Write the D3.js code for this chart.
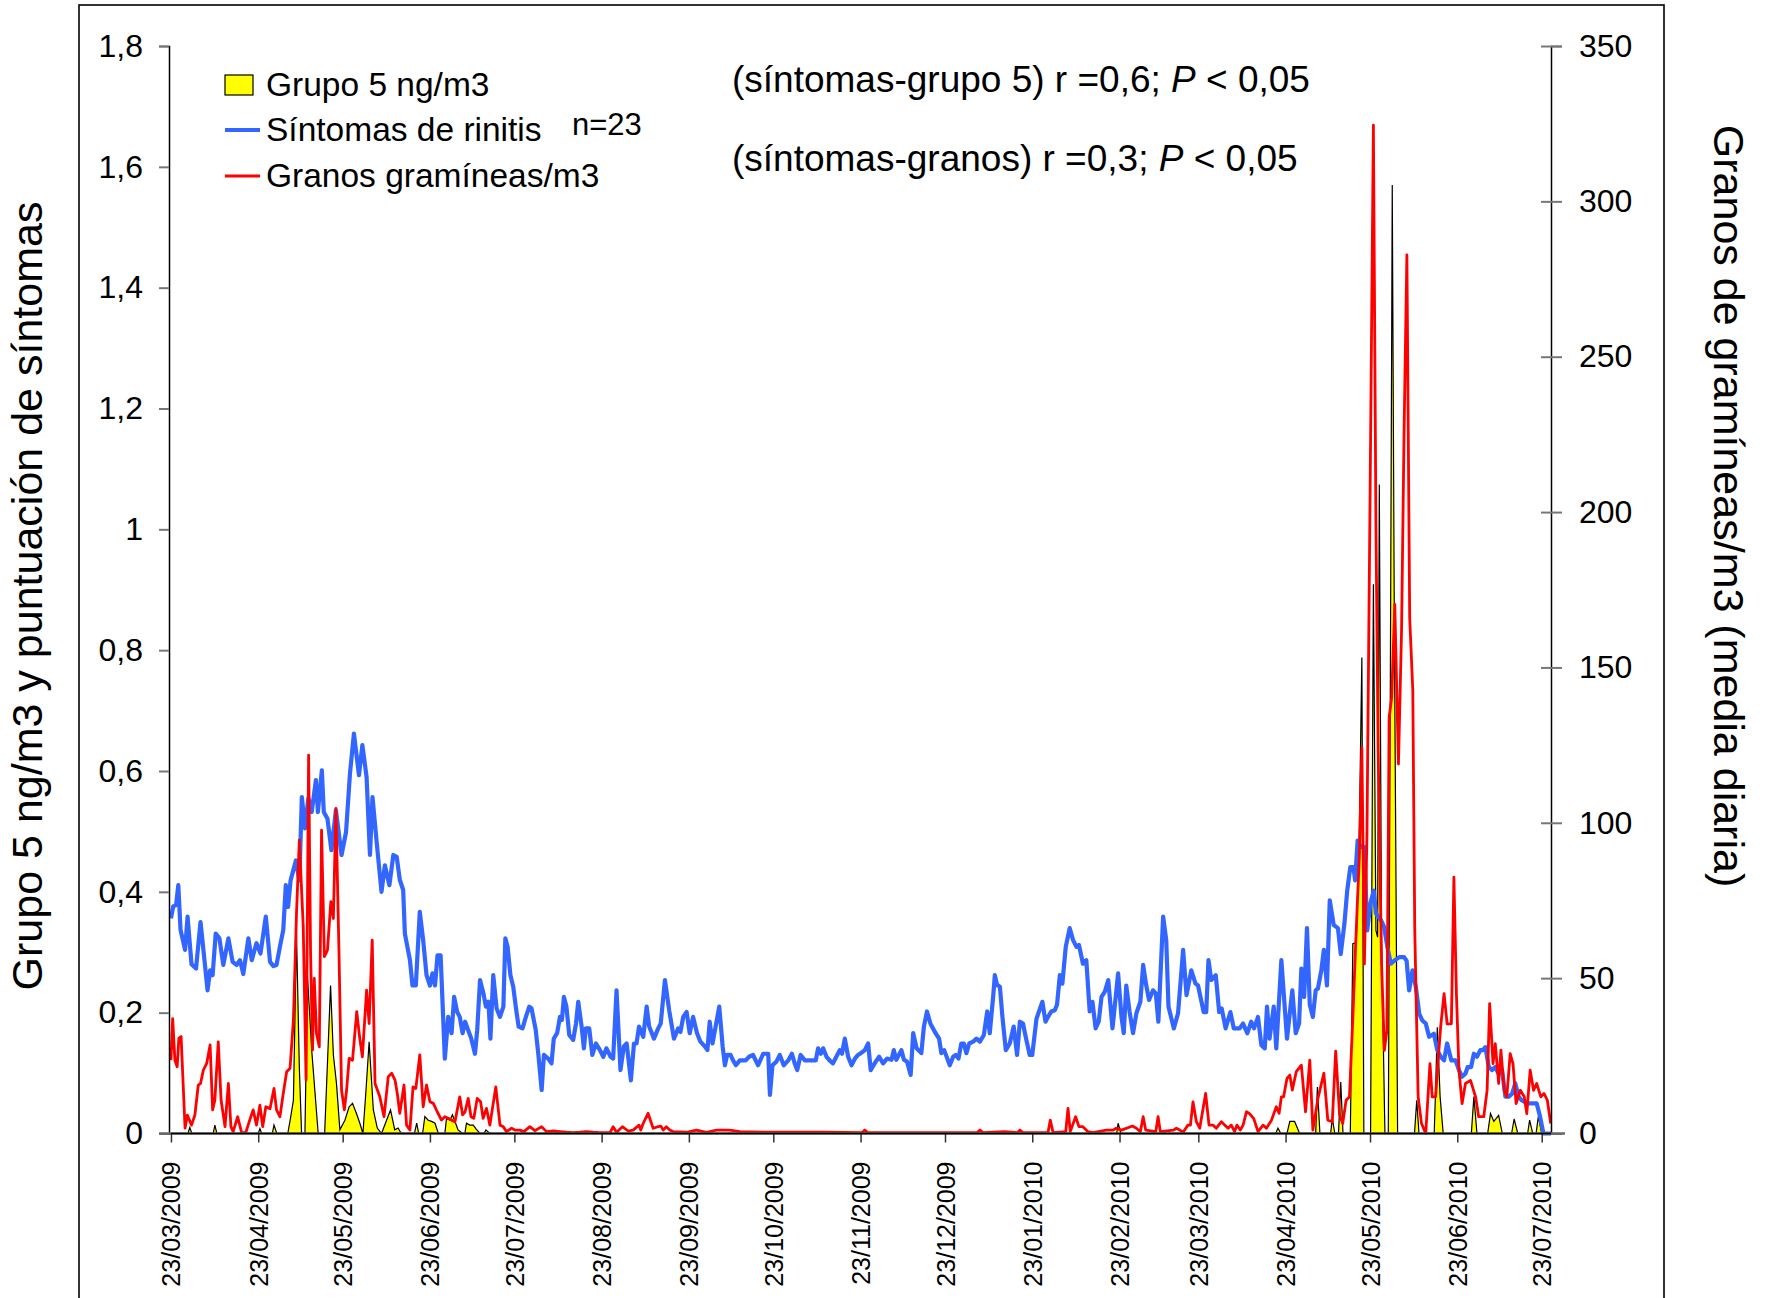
<!DOCTYPE html>
<html><head><meta charset="utf-8">
<script src="https://cdn.jsdelivr.net/npm/d3@7"></script>
<style>
html,body{margin:0;padding:0;background:#fff;}
svg text{font-family:"Liberation Sans",Arial,Helvetica,sans-serif;fill:#000;}
</style></head>
<body>
<svg id="chart" width="1765" height="1298"></svg>
<script>
// ---------- DATA ----------
const startDate = "2009-03-23";           // day 0
const lastDay = 490.3;
// x tick labels (23rd of every month)
const xTickLabels = ["23/03/2009","23/04/2009","23/05/2009","23/06/2009","23/07/2009","23/08/2009","23/09/2009","23/10/2009","23/11/2009","23/12/2009","23/01/2010","23/02/2010","23/03/2010","23/04/2010","23/05/2010","23/06/2010","23/07/2010"];
const leftTicks = [0,0.2,0.4,0.6,0.8,1,1.2,1.4,1.6,1.8];
const leftTickLabels = ["0","0,2","0,4","0,6","0,8","1","1,2","1,4","1,6","1,8"];
const rightTicks = [0,50,100,150,200,250,300,350];
const rightTickLabels = ["0","50","100","150","200","250","300","350"];
const seriesNames = ["Grupo 5 ng/m3","Síntomas de rinitis","Granos gramíneas/m3"];

// Síntomas de rinitis (left axis) : [day offset, score]
const sintomas = [[0,.356],[0.8,.376],[1.8,.378],[2.6,.411],[3.4,.337],[5,.304],[5.9,.359],[7.3,.28],[8.9,.273],[10.5,.35],[11.9,.287],[13,.237],[13.9,.27],[14.8,.262],[15.9,.331],[17.2,.323],[18.6,.279],[20.4,.323],[21.9,.284],[23.3,.279],[24.5,.287],[25.7,.264],[27.5,.323],[28.7,.287],[30.4,.315],[31.8,.298],[33.7,.359],[35.2,.284],[36.4,.277],[37.5,.279],[38.7,.309],[39.9,.337],[40.8,.411],[41.6,.375],[42.5,.419],[44.4,.452],[45.6,.419],[46.5,.557],[47.6,.505],[48.8,.555],[50,.532],[51.5,.585],[52.2,.532],[53.6,.601],[54.3,.532],[55.6,.521],[57,.469],[58.6,.535],[60.6,.461],[62.2,.499],[63.6,.596],[65,.662],[66.8,.593],[68,.643],[69.5,.59],[70.7,.461],[71.6,.557],[73,.486],[74.8,.40],[76,.444],[77.6,.411],[79,.461],[80.2,.458],[81.3,.42],[82.5,.403],
[83.1,.331],[84.9,.287],[85.8,.245],[87,.245],[88.4,.367],[89.6,.32],[90.8,.262],[92,.245],[92.9,.265],[93.8,.245],[94.7,.295],[95.8,.295],[97.3,.124],[98.5,.193],[99.7,.166],[100.6,.226],[101.7,.201],[102.6,.193],[103.6,.166],[104.5,.185],[105.6,.171],[106.7,.157],[108,.132],[108.8,.171],[109.8,.254],[111,.232],[111.9,.21],[112.8,.218],[113.5,.157],[114.5,.262],[115.7,.207],[116.9,.193],[118.1,.21],[118.8,.323],[119.6,.309],[120.6,.262],[121.6,.243],[122.5,.21],[123.5,.177],[124.9,.174],[126.1,.193],[127.3,.21],[128.1,.207],[129.6,.171],[130.5,.132],[131.7,.072],[132.5,.13],[134,.124],[135.2,.116],[136,.157],[137.2,.166],[138.2,.193],[138.9,.188],[139.6,.226],[140.5,.21],[141.5,.163],[142.9,.155],[143.9,.182],[144.7,.218],[145.9,.177],[146.7,.141],[147.4,.174],[148.6,.174],[149.7,.13],[151,.149],[152.4,.138],[153.6,.127],[154.7,.141],[156.2,.127],[157.1,.124],[158.3,.237],[159.7,.105],[160.9,.144],[161.9,.149],[163.4,.088],[164.5,.149],[165.4,.149],[166.3,.177],
[167.8,.16],[169,.21],[169.9,.177],[171.6,.157],[173.1,.174],[174,.182],[175.5,.254],[177,.204],[178.7,.157],[180.2,.174],[181,.168],[182,.193],[183.2,.201],[184.3,.166],[185.5,.193],[186.9,.166],[188.1,.152],[189.7,.144],[190.6,.138],[191.4,.185],[192.4,.149],[194.8,.21],[196,.144],[196.8,.113],[197.6,.13],[198.8,.13],[199.7,.121],[200.7,.113],[202.1,.121],[204.2,.121],[205.4,.127],[206.8,.13],[208.6,.113],[210.4,.132],[212.2,.132],[212.8,.064],[213.7,.113],[215.1,.119],[216.3,.13],[217.7,.113],[219.3,.121],[220.6,.132],[221.6,.116],[222.5,.105],[223.7,.13],[225.2,.121],[229.1,.121],[229.9,.141],[230.9,.132],[231.7,.141],[232.9,.127],[234,.121],[235.2,.116],[236.4,.127],[237.6,.138],[238.4,.132],[239.4,.157],[240.6,.127],[241.8,.113],[243,.124],[244.1,.13],[245.7,.135],[246.5,.138],[247.7,.149],[248.6,.105],[250,.116],[251.6,.127],
[253,.116],[254.4,.124],[256,.122],[256.8,.138],[257.7,.122],[259.5,.138],[260.4,.122],[261.5,.119],[262.8,.097],[263.7,.166],[264.9,.141],[266.6,.133],[267.5,.177],[268.6,.202],[269.8,.182],[271.4,.168],[272.9,.157],[273.7,.133],[274.7,.138],[276.7,.113],[277.9,.127],[278.8,.13],[279.8,.124],[280.8,.149],[281.7,.149],[282.6,.133],[283.6,.149],[285,.152],[286.2,.157],[287.4,.152],[288.8,.163],[290,.202],[290.9,.166],[292.1,.226],[292.7,.262],[293.5,.246],[294.5,.243],[295.4,.193],[296.6,.138],[298,.149],[299.4,.177],[300.6,.13],[301.6,.185],[302.7,.182],[303.9,.155],[305.1,.13],[306,.13],[307.5,.19],[309.6,.218],[310.7,.185],[311.6,.193],[312.8,.202],[314,.204],[314.8,.213],[315.8,.262],[316.7,.248],[317.9,.309],[319.3,.34],[320.5,.32],[321.7,.309],[322.6,.312],[324,.281],[325.2,.287],[326.4,.202],[327.4,.218],[328.5,.174],[329.6,.185],[330.6,.226],[331.8,.235],[333,.254],
[334.5,.174],[335.3,.21],[336.5,.265],[337.7,.193],[338.5,.166],[339.4,.245],[340.6,.201],[341.8,.166],[343,.199],[344.4,.218],[345.4,.279],[346.5,.245],[347.5,.221],[348.9,.237],[349.9,.232],[350.8,.185],[352.5,.359],[353.6,.32],[354.4,.21],[356.3,.174],[357.8,.199],[359.6,.304],[360.8,.229],[362.5,.27],[364,.248],[364.9,.245],[366.9,.201],[367.8,.201],[368.6,.287],[369.6,.254],[371.2,.262],[372.4,.201],[373.3,.207],[374.7,.174],[376.4,.201],[377.6,.174],[379.7,.174],[380.9,.182],[382.4,.166],[383.8,.185],[384.8,.174],[386.2,.193],[387.4,.146],[388.6,.141],[389.4,.21],[390.3,.157],[391.8,.21],[392.7,.141],[394.5,.287],[396.5,.157],[398.4,.237],[399.6,.166],[400.8,.182],[401.6,.273],[402.6,.226],[403.6,.34],[404.6,.213],[405.7,.193],[406.7,.237],[407.5,.24],[408.7,.27],[409.6,.304],[410.7,.245],[411.7,.386],[413.1,.345],[414.6,.34],[415.6,.297],[416.9,.347],[417.9,.402],[419,.441],[420.1,.441],[420.7,.419],[421.6,.485],[422.8,.474],[424,.474],[425,.336],[426.1,.38],[427.3,.402],[428.1,.364],[429.9,.353],[431,.342],[432.2,.308],[433.4,.281],[434.6,.286],[436.4,.292],[438.1,.292],[439,.286],[439.9,.237],[441.1,.27],[442.3,.242],[443.5,.198],[444.6,.187],[445.8,.182],[447,.16],[448.7,.165],[449.9,.138],[451.1,.127],[452.3,.121],[453.4,.149],[454.9,.121],[456.4,.121],[457.6,.105],[458.7,.094],[459.9,.099],[460.7,.11],[461.9,.11],[462.9,.132],[464,.127],[465.2,.138],[466.1,.138],[467,.143],[468.2,.11],[469.4,.105],[470.5,.11],[471.7,.099],[472.9,.105],[474.1,.061],[475.3,.061],[476.5,.066],[477.6,.083],[478.8,.061],[479.9,.055],[481.7,.05],[483.5,.05],[485.2,.05],[486.4,.028],[487.6,0],[490.3,0]];

// Granos gramíneas/m3 (right axis) : [day offset, grains/m3]
const granos = [[0,23.6],[0.6,37],[1.4,23.6],[2.2,21.5],[2.8,30.6],[3.6,31.2],[5,1.7],[5.8,5.9],[7.3,2.7],[8.5,5.9],[9.7,15.6],[10.5,16.1],[11.5,20.4],[12.7,22.6],[13.9,28.5],[14.8,7.6],[15.6,10.8],[16.8,29.5],[17.8,10.8],[19.2,2.2],[20.4,16.1],[21.3,2.2],[22.1,0.6],[23.7,5.4],[25.1,0.3],[26.6,0.3],[27.8,3.8],[29.2,7.6],[30.4,2.7],[31.6,9.1],[32.6,2.2],[33.7,8.6],[35.2,8],[36.6,14.5],[37.5,7.6],[38.7,5.4],[39.9,12.9],[41.1,19.9],[42.3,21],[43.5,36.5],[44.6,70.8],[45.6,94.4],[47,66.5],[48,17.2],[48.9,121.8],[49.6,58],[50.3,26.9],[50.9,49.9],[51.7,32.2],[52.7,27.9],[53.5,97.6],[54.5,56.9],[55.6,59],[56.8,74.6],[57.7,69.2],[58.6,104.6],[59.7,58],[60.6,14],[61.6,7.6],[62.4,14],[63.3,24.2],[64.5,23.6],[66,39.2],[67,31.2],[68,24.7],[69.5,46.1],[70.4,35.4],[71.5,62.2],[72.5,16.1],[74.2,11.8],[75.7,5.4],[77.2,18.3],[78.4,19.4],[79.6,17.2],[80.4,12.9],[81.3,6.5],
[82.8,15.6],[83.7,2.7],[84.9,1.1],[86,15],[87,14.5],[88.4,25.3],[89.6,8.6],[90.8,15.6],[92,10.2],[93.2,9.7],[94.6,7],[96.1,4.3],[97.3,5.4],[98.5,4.9],[99.7,4.3],[100.9,3.8],[102.6,11.8],[103.6,6],[104.5,7],[105.6,11.3],[106.6,5.4],[107.6,4.9],[108.8,11.3],[110,10.2],[110.9,4.9],[112.1,8.1],[113.3,2.7],[115.4,15],[116.9,2.7],[118.1,2.2],[119.2,0.6],[121,1.7],[122.2,1.1],[124,1.1],[125.4,0.6],[127.5,2.2],[129.3,0.9],[131.7,2.2],[133.4,0.6],[135.8,0.8],[138.2,0.6],[140.5,0.4],[142.9,0.3],[145.3,0.4],[147.6,0.6],[150,0.4],[152.4,0.3],[156,0.3],[157.1,2.2],[158.3,0.4],[160.4,2.2],[162.4,0.8],[164.2,1.1],[166.3,2.7],
[166.9,1.1],[167.8,3.3],[169.5,6.5],[171.3,1.7],[173.1,2.2],[174,2.4],[174.9,1.1],[176,2.2],[177.2,1.1],[178.4,0.6],[183.2,0.4],[186.7,1.1],[190.3,0.4],[193.8,1.1],[195.6,1.1],[198.5,1.1],[202.1,0.6],[214,0.4],[231.7,0.4],[245.6,0.3],[246.5,1.1],[247.5,0.3],[251.8,0.3],[286.5,0.3],[287.4,1.1],[288.5,0.3],[296.2,0.6],[300.8,0.3],[301.6,1.1],[302.7,0.3],[311.6,0.3],[312.4,4.3],[313.4,0.3],[317.9,0.6],[318.7,8.1],[319.5,0.6],[321.4,5.4],[322.6,2.2],[324,2.2],[325.8,0.6],[327.6,0.3],[332.3,1.1],[334.7,1.1],
[335.8,1.7],[337.7,1.1],[341.6,2.4],[343,1.7],[344.4,0.6],[345.4,5.4],[346.3,1.1],[349.9,0.6],[350.7,5.4],[351.5,0.6],[356.2,1.1],[357.2,1.7],[358.4,1.1],[359.6,0.4],[361.3,2.7],[362.2,2.7],[363.1,10.2],[364.3,3.8],[365.5,1.7],[367.6,12.9],[368.8,2.7],[370.2,2.7],[371.4,1.7],[373.2,3.8],[374.4,2.7],[375.6,1.7],[376.7,2.7],[377.9,0.6],[378.7,2.7],[379.9,1.1],[380.9,2.7],[382.1,7],[383.2,6.4],[384.7,4.8],[386.2,0.6],[388,2.7],[389.2,1.7],[391,4.3],[392.7,8.6],[393.7,6.5],[394.5,11.8],[395.3,11.8],[396.5,17.7],[397.5,18.8],[398.4,14],[399.8,19.9],[401.6,22],[403.1,7],[404.6,23.6],[405.7,1.1],[407.5,11.3],[409.6,19.4],[411,4.3],[412.6,3.8],[413.8,26.5],[415.2,6],[416.3,3.2],[417.5,10.7],[418.7,11.8],[419.9,37.5],[421.1,65.3],[422.2,88.9],[423.1,124.2],[424,54.6],[424.9,95.3],[426.1,213],[427.2,324.5],[428.1,196],[428.9,123.2],[430.1,54.6],[431.1,26.8],[432,33.2],[432.8,133.9],[433.7,140.3],[434.8,170.3],[436.1,118.9],[437.2,161.7],[438.1,226],[439.1,282.8],[440.1,166],[441.2,142.5],[441.9,65.3],[443.1,11.8],[444.3,3.2],[445.8,0],[447.3,22.5],[448.1,11.8],[449.3,11.8],[450.1,22.5],[451.1,34.3],[452.3,45],[453.4,35.3],[454.9,35.3],[455.8,82.5],[456.7,45],[457.6,20.4],[458.7,9.6],[459.9,16.1],[461.7,17.1],[463.5,11.8],[464.6,5.4],[466.4,5.4],[467.6,13.9],[468.5,41.8],[469.7,22.5],[470.5,28.9],[471.7,16.1],[472.5,26.8],[473.7,13.9],[474.6,11.8],[475.8,25.7],[476.8,22.5],[477.9,9.6],[479.4,13.9],[480.8,11.8],[481.7,6.4],[482.9,20.4],[484.1,13.9],[485.2,16.1],[486.7,11.8],[487.8,12.9],[489,10.7],[490.2,3.2]];

// Grupo 5 ng/m3 (left axis) : [day offset, ng/m3]
const grupo5 = [[0,0],[6,0],[6.7,.01],[7.4,0],[15,0],[15.6,.014],[16.3,0],[31,0],[31.6,.008],[32.2,0],[36,0],[36.6,.014],[37.6,0],[41.5,0],[42.3,.021],[43.5,.055],[44.6,.331],[45.6,.11],[46.4,0],[47.6,0],[48.5,.26],[50,.138],[51.1,.072],[52.3,0],[54.6,0],[56.7,.245],[57.7,.13],[58.8,.083],[60,.006],[61.8,.022],[63.3,.044],[64.5,.05],[65.9,.033],[67.1,.017],[68.2,0],[69.3,.072],[70.4,.152],[71.9,.039],[73.3,.009],[74.8,0],[76.6,.022],[78,.039],[79.5,.006],[80.7,.009],[81.8,0],[86.5,0],[87.3,.017],[88,0],[89.4,0],[90.2,.028],[91.4,.022],[92.6,.02],[93.8,.017],[95,0],[97.3,0],[97.9,.025],[99.1,.022],[100,.031],[100.9,.02],[102,.006],[103.6,0],[104.4,0],[105,.017],[106.2,.014],[107.4,.014],[108.3,.008],[109.8,0],[111.2,0],[111.9,.006],[113.3,0],[336,0],[336.5,.017],[337.5,0],[392.5,0],[393.3,.009],[394.3,0],[396.5,0],[397.5,.02],[399.2,.02],[401,0],[406.7,0],[407.3,.077],[408.2,0],[412,0],[412.6,.025],[413.5,0],[414.8,0],[415.6,.085],[416.4,0],[419,0],[419.9,.314],[421.1,.316],[422.2,.501],[423.1,.788],[423.8,0],[426.2,0],[427.2,.909],[428.1,.336],[428.7,.325],[429.3,1.074],[430.1,.314],[431.3,0],[432.5,0],[433.2,.722],[433.9,1.57],[434.6,.876],[435.8,0],[441.8,0],[442.6,.055],[443.4,0],[448.8,0],[449.3,.072],[449.9,.176],[450.9,.061],[452,0],[462,0],[462.9,.061],[464,0],[467.8,0],[468.8,.033],[470,.02],[471.7,.03],[473,0],[476.3,0],[477.2,.024],[478.5,0],[482,0],[482.7,.022],[483.8,0],[485,0],[485.8,.028],[487,0],[490.3,0]];

// ---------- CHART ----------
const svg = d3.select("#chart");
const DAY = 864e5;
const t0 = Date.parse(startDate + "T00:00:00Z");
const toDate = d => new Date(t0 + d * DAY);

const x = d3.scaleUtc().domain([toDate(-0.7), toDate(lastDay)]).range([169, 1551]);
const yL = d3.scaleLinear().domain([0, 1.8]).range([1133.5, 46]);
const yR = d3.scaleLinear().domain([0, 350]).range([1133.5, 46]);

// outer frame
svg.append("rect").attr("x",79).attr("y",5).attr("width",1585).attr("height",1400)
  .attr("fill","none").attr("stroke","#000").attr("stroke-width",1.6);

// Grupo 5 area
svg.append("path").datum(grupo5)
  .attr("d", d3.area().x(d=>x(toDate(d[0]))).y0(yL(0)).y1(d=>yL(d[1])))
  .attr("fill","#FFFF00").attr("stroke","#000").attr("stroke-width",1.2).attr("stroke-linejoin","miter");

// Síntomas line
svg.append("path").datum(sintomas)
  .attr("d", d3.line().x(d=>x(toDate(d[0]))).y(d=>yL(d[1])))
  .attr("fill","none").attr("stroke","#3366FF").attr("stroke-width",4.2).attr("stroke-linejoin","round");

// Granos line
svg.append("path").datum(granos)
  .attr("d", d3.line().x(d=>x(toDate(d[0]))).y(d=>yR(d[1])))
  .attr("fill","none").attr("stroke","#FF0000").attr("stroke-width",2.8).attr("stroke-linejoin","round");

// Left axis
const gL = svg.append("g").attr("transform","translate(169,0)")
  .call(d3.axisLeft(yL).tickValues(leftTicks).tickFormat((d,i)=>leftTickLabels[i]).tickSize(10).tickPadding(16));
gL.select(".domain").attr("stroke","#000").attr("stroke-width",1.5);
gL.selectAll(".tick line").attr("stroke","#777").attr("stroke-width",2);
gL.selectAll(".tick text").attr("font-size",32).attr("font-family","Liberation Sans, Arial, sans-serif").attr("fill","#000");

// Right axis
const gR = svg.append("g").attr("transform","translate(1551,0)")
  .call(d3.axisRight(yR).tickValues(rightTicks).tickFormat((d,i)=>rightTickLabels[i]).tickSize(11).tickPadding(17));
gR.select(".domain").attr("stroke","#000").attr("stroke-width",1.5);
gR.selectAll(".tick line").attr("x1",-10).attr("stroke","#777").attr("stroke-width",2);
gR.selectAll(".tick text").attr("font-size",32).attr("font-family","Liberation Sans, Arial, sans-serif").attr("fill","#000");

// X axis
const xTickDates = xTickLabels.map(s => { const p = s.split("/"); return new Date(Date.UTC(+p[2], +p[1]-1, +p[0])); });
const gX = svg.append("g").attr("transform",`translate(0,${yL(0)})`)
  .call(d3.axisBottom(x).tickValues(xTickDates).tickFormat((d,i)=>xTickLabels[i]).tickSize(9).tickSizeOuter(0));
gX.select(".domain").attr("stroke","#666").attr("stroke-width",2.5).attr("d", `M159,0H1565`);
gX.selectAll(".tick line").attr("stroke","#333").attr("stroke-width",1.5);
gX.selectAll(".tick text").attr("font-size",25).attr("font-family","Liberation Sans, Arial, sans-serif").attr("fill","#000")
  .attr("transform","rotate(-90)").attr("x",-28).attr("y",0).attr("dy","0.36em").style("text-anchor","end");
// black base edge of the area over the axis line
svg.append("line").attr("x1",x(toDate(0))).attr("x2",x(toDate(lastDay))).attr("y1",yL(0)).attr("y2",yL(0))
  .attr("stroke","#000").attr("stroke-width",1.4);

// Axis titles
svg.append("text").attr("transform","translate(42,596) rotate(-90)").attr("text-anchor","middle")
  .attr("font-size",43).text("Grupo 5 ng/m3 y puntuación de síntomas");
svg.append("text").attr("transform","translate(1714,506) rotate(90)").attr("text-anchor","middle")
  .attr("font-size",43).text("Granos de gramíneas/m3 (media diaria)");

// Legend
const lg = svg.append("g");
lg.append("rect").attr("x",225).attr("y",75).attr("width",28).attr("height",20).attr("fill","#FFFF00").attr("stroke","#000").attr("stroke-width",1.2);
lg.append("line").attr("x1",225).attr("x2",260).attr("y1",130).attr("y2",130).attr("stroke","#3366FF").attr("stroke-width",4.2);
lg.append("line").attr("x1",225).attr("x2",260).attr("y1",176).attr("y2",176).attr("stroke","#FF0000").attr("stroke-width",2.8);
[96,141,187].forEach((yy,i)=>lg.append("text").attr("x",266).attr("y",yy).attr("font-size",33.5).text(seriesNames[i]));
svg.append("text").attr("x",572).attr("y",135).attr("font-size",31).text("n=23");

// Statistics annotations
const st1 = svg.append("text").attr("x",732).attr("y",92).attr("font-size",37);
st1.append("tspan").text("(síntomas-grupo 5) r =0,6; ");
st1.append("tspan").attr("font-style","italic").text("P");
st1.append("tspan").text(" < 0,05");
const st2 = svg.append("text").attr("x",732).attr("y",171).attr("font-size",37);
st2.append("tspan").text("(síntomas-granos) r =0,3; ");
st2.append("tspan").attr("font-style","italic").text("P");
st2.append("tspan").text(" < 0,05");
</script>
</body></html>
